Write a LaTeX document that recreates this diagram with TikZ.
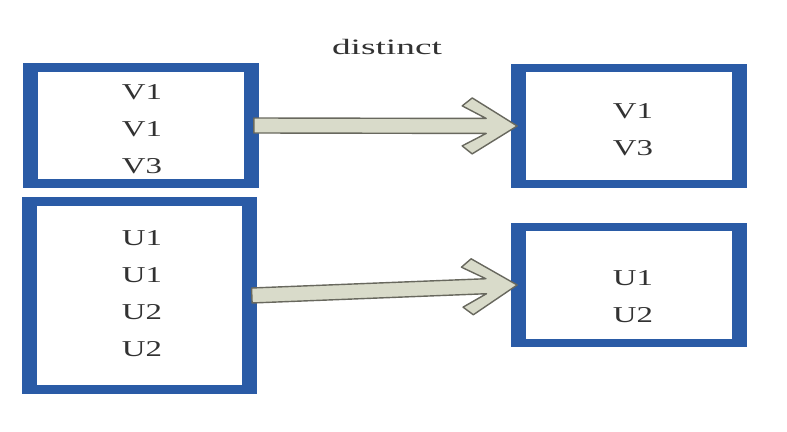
\documentclass[tikz,border=0pt]{standalone}
\usepackage{fontspec}
\usepackage{xcolor}
\usepackage{tikz}
\usetikzlibrary{calc}
\newfontfamily\boxserif[FakeStretch=1.45]{Liberation Serif}
\newfontfamily\headserif[FakeStretch=1.7]{Liberation Serif}
\definecolor{setblue}{RGB}{42,91,166}
\definecolor{chevfill}{RGB}{217,219,202}
\definecolor{chevborder}{RGB}{104,104,94}
\definecolor{labelgray}{RGB}{50,50,50}

\begin{document}
\begin{tikzpicture}[x=0.02cm, y=-0.02cm,
  setbox/.style={fill=setblue, inner sep=0pt, minimum width=4.72cm, minimum height=2.49cm,
    path picture={\fill[white] ($(path picture bounding box.south west)+(0.29cm,0.17cm)$) rectangle ($(path picture bounding box.north east)+(-0.29cm,-0.17cm)$);}},
  elemtext/.style={font=\boxserif\fontsize{12.9pt}{21pt}\selectfont, text=labelgray, align=center, inner sep=0pt},
  optext/.style={font=\headserif\fontsize{12.5pt}{15pt}\selectfont, text=labelgray, inner sep=0pt},
  chevron/.style={fill=chevfill, draw=chevborder, line width=0.8pt, line join=round}
]
\useasboundingbox (0,0) rectangle (787,432);

% input sets
\node[setbox] (vin) at (141,125.5) {};
\node[setbox, minimum width=4.70cm, minimum height=3.94cm] (uin) at (139.5,295.5) {};
% distinct results
\node[setbox] (vout) at (629,126) {};
\node[setbox] (uout) at (629,285) {};

\node[elemtext] (vin_txt) at (142,129.5) {V1\\V1\\V3};
\node[elemtext] (uin_txt) at (142,293.5) {U1\\U1\\U2\\U2};
\node[elemtext] (vout_txt) at (633,130) {V1\\V3};
\node[elemtext] (uout_txt) at (633,296.5) {U1\\U2};

\node[optext] (op) at (387,47) {distinct};

\coordinate (vsrc) at ($(vin.east)+(-5.5,0)$);
\coordinate (vdst) at ($(vout.west)+(6.5,0)$);
\coordinate (usrc) at ($(uin.east)+(-5.5,0)$);
\coordinate (udst) at ($(uout.west)+(6.5,0)$);

\foreach \src/\dst in {vsrc/vdst, usrc/udst}
  \draw[chevron] let \p1=($(\dst)-(\src)$), \n1={atan2(\y1,\x1)} in
    ($(\src)+(\n1+90:0.15cm)$)
    -- ($(\dst)+(\n1+180:0.62cm)+(\n1+90:0.15cm)$)
    -- ($(\dst)+(\n1+180:1.10cm)+(\n1+90:0.40cm)$)
    -- ($(\dst)+(\n1+180:0.90cm)+(\n1+90:0.56cm)$)
    -- (\dst)
    -- ($(\dst)+(\n1+180:0.90cm)+(\n1-90:0.56cm)$)
    -- ($(\dst)+(\n1+180:1.10cm)+(\n1-90:0.40cm)$)
    -- ($(\dst)+(\n1+180:0.62cm)+(\n1-90:0.15cm)$)
    -- ($(\src)+(\n1-90:0.15cm)$) -- cycle;
\end{tikzpicture}
\end{document}
